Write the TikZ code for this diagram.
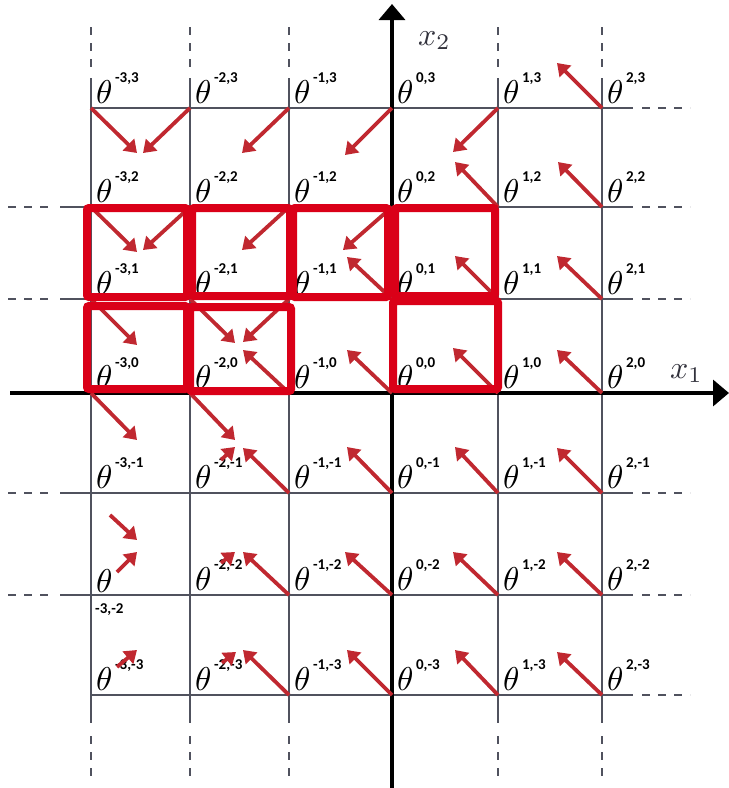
\documentclass[tikz,border=0pt]{standalone}
\usepackage{fontspec}
\usepackage{graphicx}
\newfontfamily\supfam{Carlito}
\usetikzlibrary{arrows.meta}
\definecolor{gridgray}{RGB}{80,82,94}
\definecolor{arrred}{RGB}{192,40,48}
\definecolor{boxred}{RGB}{218,0,24}
\definecolor{axlab}{RGB}{50,50,60}
\newcommand\supfont{\supfam\bfseries\fontsize{15}{15}\selectfont}
\newcommand\bigtheta{\scalebox{3.3}{$\theta$}}
\newcommand\thlabel[1]{\bigtheta\hspace{2.5pt}\raisebox{21pt}{\supfont #1}}
\tikzset{
  gridline/.style={draw=gridgray,line width=2.8pt},
  griddash/.style={draw=gridgray,line width=2.8pt,dash pattern=on 8pt off 8pt},
  axisline/.style={draw=black,line width=3.5pt,-{Triangle[length=16pt,width=26pt]}},
  rarrow/.style={draw=arrred,line width=3.8pt,-{Triangle[length=12pt,width=16pt]}},
  redbox/.style={draw=boxred,line width=8pt,rounded corners=2pt},
  thlab/.style={anchor=base west,inner sep=0pt,xshift=5pt,yshift=5pt},
  axlabel/.style={anchor=base west,inner sep=0pt,text=axlab}
}
\begin{document}
\begin{tikzpicture}[x=1pt,y=-1pt]
\useasboundingbox (0,0) rectangle (729,788);
% grid points
\foreach \i/\xx in {-3/91,-2/190,-1/289,0/392,1/498,2/602}
  \foreach \j/\yy in {3/108,2/207,1/299,0/393,-1/493,-2/595,-3/695}
    \coordinate (p\i q\j) at (\xx,\yy);
% vertical grid lines
\foreach \xx in {91,190,289,498,602}{
  \draw[gridline] (\xx,78) -- (\xx,723);
  \draw[griddash] (\xx,27) -- (\xx,70);
  \draw[griddash] (\xx,736) -- (\xx,778);
}
% horizontal grid lines
\foreach \yy in {108,695}{
  \draw[gridline] (91,\yy) -- (633,\yy);
  \draw[griddash] (642,\yy) -- (690,\yy);
}
\foreach \yy in {207,299,493,595}{
  \draw[gridline] (60,\yy) -- (633,\yy);
  \draw[griddash] (642,\yy) -- (690,\yy);
  \draw[griddash] (8,\yy) -- (52,\yy);
}
% axes
\coordinate (xa0) at (10,393);
\coordinate (xa1) at (729,393);
\coordinate (ya0) at (392,788);
\coordinate (ya1) at (392,4);
\draw[axisline] (xa0) -- (xa1);
\draw[axisline] (ya0) -- (ya1);
\node[axlabel] (lx2) at (418,45) {\scalebox{3.2}{$x_2$}};
\node[axlabel] (lx1) at (670,378) {\scalebox{3.2}{$x_1$}};
% theta labels
\foreach \i in {-3,-2,-1,0,1,2}
  \foreach \j in {3,2,1,0,-1,-2,-3}{
    \ifnum\numexpr(\i+3)*10+\j+3\relax=1\relax
    \else
      \node[thlab] (t\i q\j) at (p\i q\j) {\thlabel{\i,\j}};
    \fi
  }
\node[thlab,yshift=-2pt] (t-3q-2) at (p-3q-2) {\bigtheta};
\node[anchor=base west,inner sep=0pt] (s-3q-2) at (95,613) {\supfont -3,-2};
% red arrows
\draw[rarrow] (p-3q3) -- ++(46,45);
\draw[rarrow] (p-2q3) -- ++(-47,45);
\draw[rarrow] (p-1q3) -- ++(-47,45);
\draw[rarrow] (p0q3) -- ++(-47,47);
\draw[rarrow] (p1q3) -- ++(-45,44);
\draw[rarrow] (p2q3) -- ++(-45,-45);
\draw[rarrow] (p1q2) -- ++(-43,-45);
\draw[rarrow] (p2q2) -- ++(-44,-45);
\draw[rarrow] (p-3q2) -- ++(46,45);
\draw[rarrow] (p-2q2) -- ++(-47,43);
\draw[rarrow] (p-1q2) -- ++(-47,43);
\draw[rarrow] (p0q2) -- ++(-49,43);
\draw[rarrow] (p0q1) -- ++(-45,-42);
\draw[rarrow] (p1q1) -- ++(-43,-43);
\draw[rarrow] (p2q1) -- ++(-45,-43);
\draw[rarrow] (p-3q1) -- ++(46,46);
\draw[rarrow] (p-2q1) -- ++(45,44);
\draw[rarrow] (p-1q1) -- ++(-46,43);
\draw[rarrow] (p-1q0) -- ++(-46,-43);
\draw[rarrow] (p0q0) -- ++(-45,-43);
\draw[rarrow] (p1q0) -- ++(-45,-45);
\draw[rarrow] (p2q0) -- ++(-45,-43);
\draw[rarrow] (p-3q0) -- ++(46,47);
\draw[rarrow] (p-2q0) -- ++(45,47);
\coordinate (s1a) at (221,460); \coordinate (s1b) at (235,447);
\draw[rarrow] (s1a) -- (s1b);
\draw[rarrow] (p-1q-1) -- ++(-46,-45);
\draw[rarrow] (p0q-1) -- ++(-45,-46);
\draw[rarrow] (p1q-1) -- ++(-43,-46);
\draw[rarrow] (p2q-1) -- ++(-45,-45);
\coordinate (s2a) at (110,515); \coordinate (s2b) at (137,540);
\draw[rarrow] (s2a) -- (s2b);
\coordinate (s3a) at (117,572); \coordinate (s3b) at (137,552);
\draw[rarrow] (s3a) -- (s3b);
\coordinate (s4a) at (221,563); \coordinate (s4b) at (235,552);
\draw[rarrow] (s4a) -- (s4b);
\draw[rarrow] (p-1q-2) -- ++(-46,-43);
\draw[rarrow] (p0q-2) -- ++(-47,-43);
\draw[rarrow] (p1q-2) -- ++(-45,-43);
\draw[rarrow] (p2q-2) -- ++(-45,-43);
\coordinate (s5a) at (117,667); \coordinate (s5b) at (137,650);
\draw[rarrow] (s5a) -- (s5b);
\coordinate (s6a) at (222,663); \coordinate (s6b) at (236,652);
\draw[rarrow] (s6a) -- (s6b);
\draw[rarrow] (p-1q-3) -- ++(-46,-45);
\draw[rarrow] (p0q-3) -- ++(-45,-45);
\draw[rarrow] (p1q-3) -- ++(-43,-45);
\draw[rarrow] (p2q-3) -- ++(-45,-43);
% red boxes
\draw[redbox] (87,208) rectangle (187,297);
\draw[redbox] (192,208) rectangle (290,296);
\draw[redbox] (293,208) rectangle (388,297);
\draw[redbox] (395,208) rectangle (495,296);
\draw[redbox] (87,306) rectangle (187,389);
\draw[redbox] (190,307) rectangle (291,391);
\draw[redbox] (393,301) rectangle (498,389);
\end{tikzpicture}
\end{document}
